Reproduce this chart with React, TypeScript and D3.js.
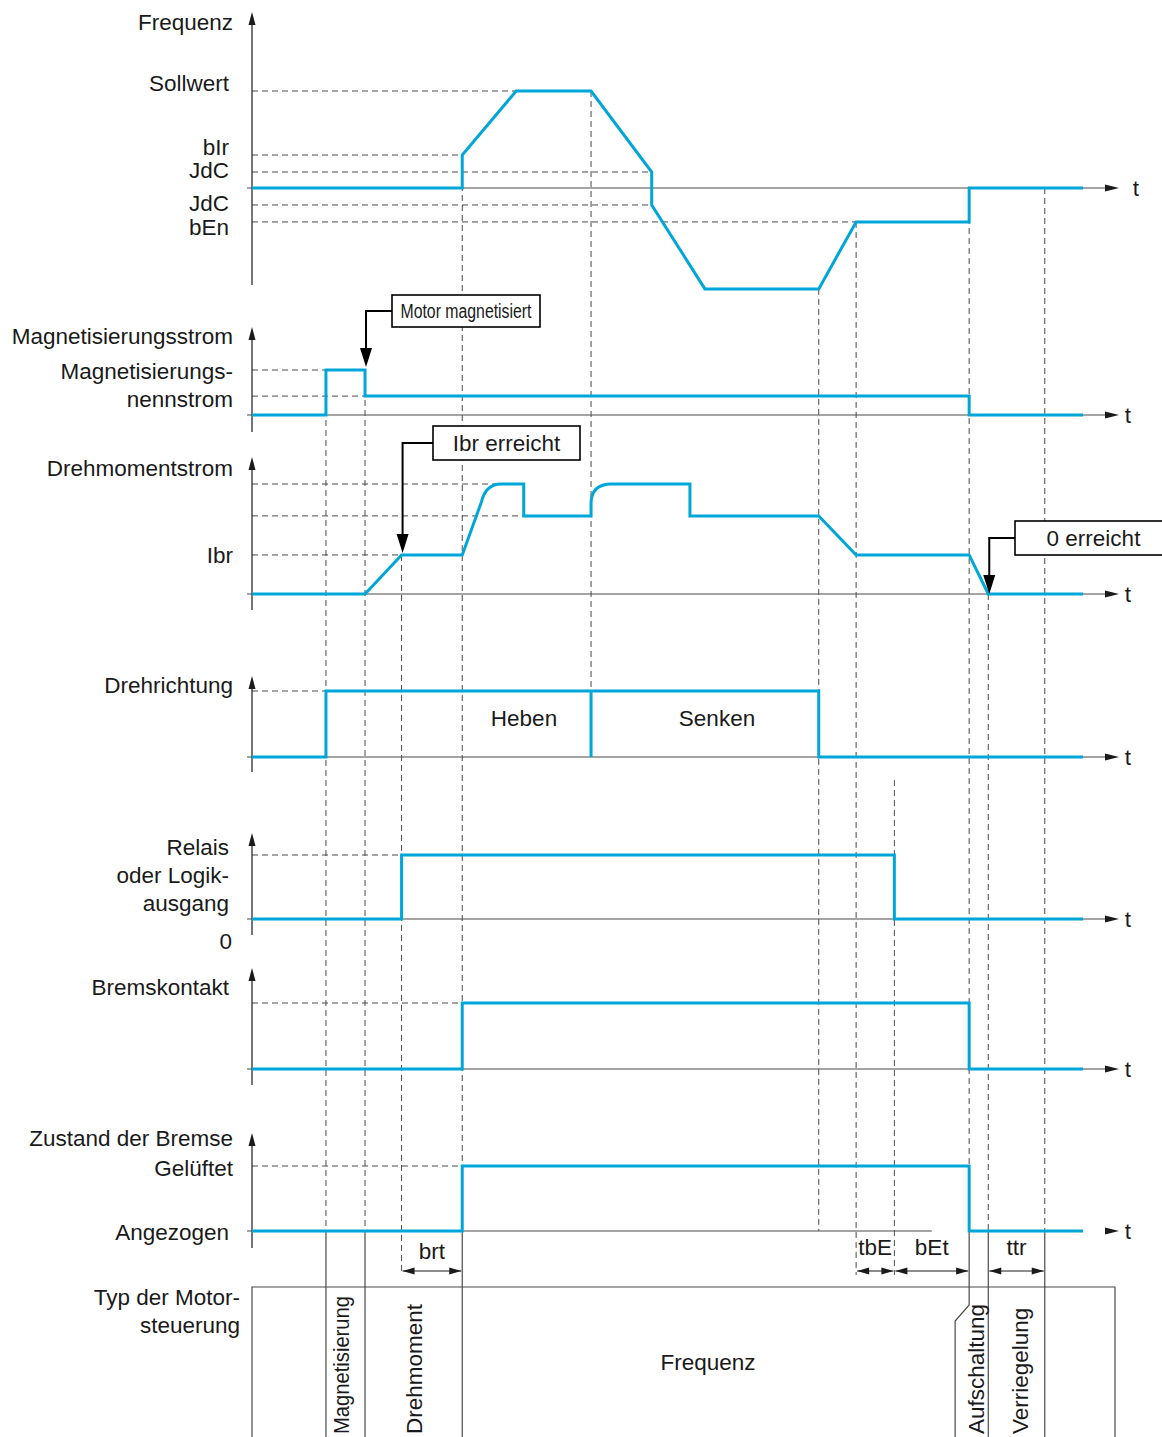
import React from 'react';
import * as d3 from 'd3';

const W = 1162;
const H = 1437;
const BLUE = '#00a6d8';
const INK = '#1a1a1a';
const GRID = '#4a4a4a';
const FONT = '"Liberation Sans", Arial, Helvetica, sans-serif';
const FS = 22.5;

// time runs 0..100 (arbitrary units)
const xScale = d3.scaleLinear().domain([0, 100]).range([252, 1083]);

type Pt = [number, number, string?];

// series: [time, level] ; 'q' marks a rounding control point
const freqSeries: Pt[] = [[0, 0], [25.3, 0], [25.3, 0.34], [31.8, 1], [40.8, 1], [48.1, 0.165], [48.1, -0.175], [54.5, -1.04], [68.2, -1.04], [72.7, -0.35], [86.3, -0.35], [86.3, 0], [100, 0]];
const magSeries: Pt[] = [[0, 0], [8.9, 0], [8.9, 1], [13.6, 1], [13.6, 0.42], [86.3, 0.42], [86.3, 0], [100, 0]];
const torqueSeries: Pt[] = [[0, 0], [13.6, 0], [18.0, 0.355], [25.3, 0.355], [27.6, 0.835], [28.1, 1, 'q'], [30.0, 1], [32.7, 1], [32.7, 0.71], [40.8, 0.71], [40.8, 0.82], [40.8, 1, 'q'], [43.3, 1], [52.7, 1], [52.7, 0.71], [68.2, 0.71], [72.7, 0.355], [86.3, 0.355], [88.6, 0], [100, 0]];
const dirSeries: Pt[] = [[0, 0], [8.9, 0], [8.9, 1], [68.2, 1], [68.2, 0], [100, 0]];
const dirSplit: Pt[] = [[40.8, 0], [40.8, 1]];
const relaySeries: Pt[] = [[0, 0], [18.0, 0], [18.0, 1], [77.3, 1], [77.3, 0], [100, 0]];
const contactSeries: Pt[] = [[0, 0], [25.3, 0], [25.3, 1], [86.3, 1], [86.3, 0], [100, 0]];
const stateSeries: Pt[] = [[0, 0], [25.3, 0], [25.3, 1], [86.3, 1], [86.3, 0], [100, 0]];

// dashed reference levels: [level, end time]
const freqLevels = [[1, 40.8], [0.34, 25.3], [0.165, 48.1], [-0.175, 48.1], [-0.35, 72.7]];
const magLevels = [[1, 13.6], [0.42, 13.6]];
const torqueLevels = [[1, 30.0], [0.71, 32.7], [0.355, 18.0]];
const dirLevels = [[1, 8.9]];
const relayLevels = [[1, 18.0]];
const contactLevels = [[1, 25.3]];
const stateLevels = [[1, 25.3]];

const panels = [
  { id: 'freq', base: 188, unit: 97, top: 12, bottom: 285, tx: 1136, series: [freqSeries], levels: freqLevels },
  { id: 'mag', base: 415, unit: 45, top: 327, bottom: 432, tx: 1128, series: [magSeries], levels: magLevels },
  { id: 'torque', base: 594, unit: 110, top: 457, bottom: 610, tx: 1128, series: [torqueSeries], levels: torqueLevels },
  { id: 'dir', base: 757, unit: 66, top: 676, bottom: 772, tx: 1128, series: [dirSeries, dirSplit], levels: dirLevels },
  { id: 'relay', base: 919, unit: 64, top: 833, bottom: 935, tx: 1128, series: [relaySeries], levels: relayLevels },
  { id: 'contact', base: 1069, unit: 66, top: 968, bottom: 1085, tx: 1128, series: [contactSeries], levels: contactLevels },
  { id: 'state', base: 1231, unit: 65, top: 1133, bottom: 1248, tx: 1128, series: [stateSeries], levels: stateLevels, axisStop: 81.8 },
];

const leftLabels: [string, number, number][] = [
  ['Frequenz', 233, 22], ['Sollwert', 229, 83], ['bIr', 229, 147], ['JdC', 229, 170], ['JdC', 229, 203], ['bEn', 229, 227],
  ['Magnetisierungsstrom', 233, 336], ['Magnetisierungs-', 233, 371], ['nennstrom', 233, 399],
  ['Drehmomentstrom', 233, 468], ['Ibr', 233, 555],
  ['Drehrichtung', 233, 685],
  ['Relais', 229, 847], ['oder Logik-', 229, 875], ['ausgang', 229, 903], ['0', 232, 941],
  ['Bremskontakt', 229, 987],
  ['Zustand der Bremse', 233, 1138], ['Gelüftet', 233, 1168], ['Angezogen', 229, 1232],
  ['Typ der Motor-', 240, 1297], ['steuerung', 240, 1325],
];

// vertical guides: time, start [panel, level], end, what is drawn below the brake-state line
const guides = [
  { t: 8.9, from: ['mag', 1], to: 'state', below: 'solid' },
  { t: 13.6, from: ['mag', 1], to: 'state', below: 'solid' },
  { t: 18.0, from: ['torque', 0.355], to: 'dim', below: '' },
  { t: 25.3, from: ['freq', 0.34], to: 'state', below: 'solid' },
  { t: 40.8, from: ['freq', 1], to: 'dirTop', below: '' },
  { t: 68.2, from: ['freq', -1.04], to: 'state', below: '' },
  { t: 72.7, from: ['freq', -0.35], to: 'dim', below: '' },
  { t: 77.3, from: ['dir', -0.35], to: 'dim', below: '' },
  { t: 86.3, from: ['freq', 0], to: 'state', below: 'kink' },
  { t: 88.6, from: ['torque', 0], to: 'state', below: 'solid' },
  { t: 95.4, from: ['freq', 0], to: 'state', below: 'solid' },
];

const dims = [
  { label: 'brt', t0: 18.0, t1: 25.3, ly: 1251 },
  { label: 'tbE', t0: 72.7, t1: 77.3, ly: 1247 },
  { label: 'bEt', t0: 77.3, t1: 86.3, ly: 1247 },
  { label: 'ttr', t0: 88.6, t1: 95.4, ly: 1247 },
];

const modes = [
  { label: 'Magnetisierung', cx: 341, len: 138 },
  { label: 'Drehmoment', cx: 414, len: 0 },
  { label: 'Aufschaltung', cx: 976, len: 0 },
  { label: 'Verriegelung', cx: 1020, len: 0 },
];

const callouts = [
  { text: 'Motor magnetisiert', x0: 392, x1: 540, y0: 295, y1: 327, t: 13.6, tipY: 367, narrow: true },
  { text: 'Ibr erreicht', x0: 433, x1: 580, y0: 426, y1: 460, t: 18.0, tipY: 553, narrow: false },
  { text: '0 erreicht', x0: 1015, x1: 1172, y0: 521, y1: 555, t: 88.6, tipY: 594, narrow: false },
];

const DIM_Y = 1271;
const BOX_TOP = 1287;
const BOX_RIGHT = 1115;

function buildPath(pts: Pt[], y: d3.ScaleLinear<number, number>) {
  const p = d3.path();
  for (let i = 0; i < pts.length; i++) {
    const d = pts[i];
    if (i === 0) p.moveTo(xScale(d[0]), y(d[1]));
    else if (d[2] === 'q' && i + 1 < pts.length) {
      const n = pts[i + 1];
      p.quadraticCurveTo(xScale(d[0]), y(d[1]), xScale(n[0]), y(n[1]));
      i++;
    } else p.lineTo(xScale(d[0]), y(d[1]));
  }
  return p.toString();
}

export default function App() {
  const scales: Record<string, d3.ScaleLinear<number, number>> = {};
  panels.forEach(p => {
    scales[p.id] = d3.scaleLinear().domain([0, 1]).range([p.base, p.base - p.unit]);
  });
  const stateBase = scales.state(0);
  const x0 = xScale(0);

  return (
    <svg width={W} height={H} style={{ position: 'absolute', left: 0, top: 0, background: '#fff' }}
      fontFamily={FONT} fontSize={FS} fill={INK}>
      <rect width={W} height={H} fill="#fff" />

      {/* dashed level lines */}
      {panels.map(p => p.levels.map((l, i) => (
        <line key={p.id + 'l' + i} x1={x0} x2={xScale(l[1])} y1={scales[p.id](l[0])} y2={scales[p.id](l[0])}
          stroke={GRID} strokeWidth={1} strokeDasharray="6,4" />
      )))}

      {/* vertical guides */}
      {guides.map((g, i) => {
        const gx = xScale(g.t);
        const ys = scales[g.from[0] as string](g.from[1] as number);
        const ye = g.to === 'state' ? stateBase : g.to === 'dim' ? DIM_Y + 4 : scales.dir(1);
        return (
          <g key={'g' + i}>
            <line x1={gx} x2={gx} y1={ys} y2={ye} stroke={GRID} strokeWidth={1} strokeDasharray="6,4" />
            {g.below === 'solid' && <line x1={gx} x2={gx} y1={stateBase} y2={H} stroke={GRID} strokeWidth={1.2} />}
            {g.below === 'kink' && (
              <polyline points={`${gx},${stateBase} ${gx},1305 ${gx - 14},1321 ${gx - 14},${H}`} fill="none" stroke={GRID} strokeWidth={1.2} />
            )}
          </g>
        );
      })}

      {/* axes */}
      {panels.map(p => {
        const yb = p.base;
        const xEnd = p.axisStop !== undefined ? xScale(p.axisStop) : 1106;
        return (
          <g key={p.id + 'ax'}>
            <line x1={252} x2={252} y1={p.top + 8} y2={p.bottom} stroke={INK} strokeWidth={1.2} />
            <polygon points={`252,${p.top} 248.5,${p.top + 13} 255.5,${p.top + 13}`} fill={INK} />
            <line x1={247} x2={xEnd} y1={yb} y2={yb} stroke={GRID} strokeWidth={1.2} />
            <polygon points={`1119,${yb} 1105,${yb - 3.5} 1105,${yb + 3.5}`} fill={INK} />
            <text x={p.tx} y={yb} dominantBaseline="central" textAnchor="middle">t</text>
          </g>
        );
      })}

      {/* signal traces */}
      {panels.map(p => p.series.map((s, i) => (
        <path key={p.id + 's' + i} d={buildPath(s, scales[p.id])} fill="none" stroke={BLUE} strokeWidth={3}
          strokeLinejoin="miter" strokeLinecap="butt" />
      )))}

      {/* left labels */}
      {leftLabels.map((l, i) => (
        <text key={'ll' + i} x={l[1]} y={l[2]} textAnchor="end" dominantBaseline="central">{l[0]}</text>
      ))}

      <text x={524} y={718} textAnchor="middle" dominantBaseline="central">Heben</text>
      <text x={717} y={718} textAnchor="middle" dominantBaseline="central">Senken</text>

      {/* callouts */}
      {callouts.map((c, i) => {
        const ax = xScale(c.t) + 1;
        const my = (c.y0 + c.y1) / 2;
        return (
          <g key={'c' + i}>
            <rect x={c.x0} y={c.y0} width={c.x1 - c.x0} height={c.y1 - c.y0} fill="#fff" stroke="#000" strokeWidth={1.6} />
            {c.narrow ? (
              <text x={(c.x0 + c.x1) / 2} y={my} textAnchor="middle" dominantBaseline="central" fontSize={20}
                textLength={131} lengthAdjust="spacingAndGlyphs">{c.text}</text>
            ) : (
              <text x={(c.x0 + c.x1) / 2} y={my} textAnchor="middle" dominantBaseline="central">{c.text}</text>
            )}
            <polyline points={`${c.x0},${my} ${ax},${my} ${ax},${c.tipY - 16}`} fill="none" stroke="#000" strokeWidth={2} />
            <polygon points={`${ax},${c.tipY} ${ax - 6},${c.tipY - 19} ${ax + 6},${c.tipY - 19}`} fill="#000" />
          </g>
        );
      })}

      {/* dimension arrows */}
      {dims.map((d, i) => {
        const a = xScale(d.t0) + 1;
        const b = xScale(d.t1) - 1;
        return (
          <g key={'d' + i}>
            <line x1={a} x2={b} y1={DIM_Y} y2={DIM_Y} stroke={INK} strokeWidth={1} />
            <polygon points={`${a},${DIM_Y} ${a + 12},${DIM_Y - 3.5} ${a + 12},${DIM_Y + 3.5}`} fill={INK} />
            <polygon points={`${b},${DIM_Y} ${b - 12},${DIM_Y - 3.5} ${b - 12},${DIM_Y + 3.5}`} fill={INK} />
            <text x={(xScale(d.t0) + xScale(d.t1)) / 2} y={d.ly} textAnchor="middle" dominantBaseline="central">{d.label}</text>
          </g>
        );
      })}

      {/* motor control type box */}
      <polyline points={`${x0},${H} ${x0},${BOX_TOP} ${BOX_RIGHT},${BOX_TOP} ${BOX_RIGHT},${H}`} fill="none" stroke={GRID} strokeWidth={1.2} />
      <text x={708} y={1362} textAnchor="middle" dominantBaseline="central">Frequenz</text>
      {modes.map((m, i) => (
        <text key={'m' + i} transform={`translate(${m.cx},1434) rotate(-90)`} textAnchor="start" dominantBaseline="central"
          {...(m.len ? { textLength: m.len, lengthAdjust: 'spacingAndGlyphs' } : {})}>{m.label}</text>
      ))}
    </svg>
  );
}
